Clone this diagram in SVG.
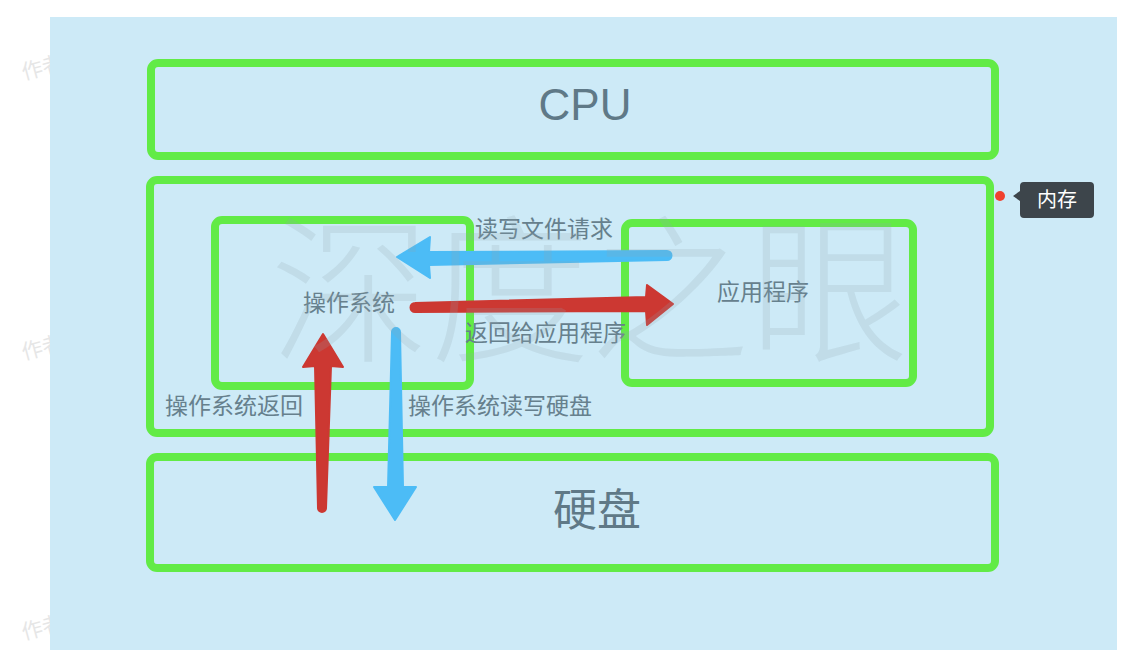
<svg xmlns="http://www.w3.org/2000/svg" width="1140" height="658" viewBox="0 0 1140 658">
<style>
.box{fill:none;stroke:#62eb46;stroke-width:8;}
.lbl{font-family:"Liberation Sans","Noto Sans CJK SC",sans-serif;fill:#66808d;font-size:23px;}
.big{font-family:"Liberation Sans","Noto Sans CJK SC",sans-serif;fill:#5f7987;font-size:44px;text-anchor:middle;}
.wm{font-family:"Noto Sans CJK SC",sans-serif;fill:#e6e6e6;font-size:21px;}
.blue{fill:#4cbcf6;stroke:#4cbcf6;stroke-width:2;stroke-linejoin:round;}
.red{fill:#cc3832;stroke:#cc3832;stroke-width:2;stroke-linejoin:round;}
</style>
<rect width="1140" height="658" fill="#ffffff"/>
<g id="side-watermarks">
<text class="wm" x="24" y="80" transform="rotate(-15 24 80)">作者</text>
<text class="wm" x="24" y="360" transform="rotate(-15 24 360)">作者</text>
<text class="wm" x="24" y="640" transform="rotate(-15 24 640)">作者</text>
</g>
<rect x="50" y="17" width="1067" height="633" fill="#cdeaf7"/>
<g id="cpu">
<rect class="box" x="151" y="63" width="844" height="93" rx="7"/>
<text class="big" x="585" y="120">CPU</text>
</g>
<g id="memory">
<rect class="box" x="150" y="180" width="840" height="253" rx="7"/>
</g>
<g id="os">
<rect class="box" x="215" y="220" width="255" height="166" rx="7"/>
<text class="lbl" x="349" y="311" text-anchor="middle">操作系统</text>
</g>
<g id="app">
<rect class="box" x="625" y="223" width="288" height="160" rx="7"/>
<text class="lbl" x="763" y="300" text-anchor="middle">应用程序</text>
</g>
<g id="disk">
<rect class="box" x="150" y="457" width="845" height="111" rx="7"/>
<text class="big" x="597" y="526">硬盘</text>
</g>
<g id="connectors">
<path class="blue" d="M667,251 L429,252 L430,237 L397,257 L430,278 L429,265 L667,260 A4.5,4.5 0 0 0 667,251 Z"/>
<path class="red" d="M415,303 L646,297 L647,285 L673,304 L647,325 L646,311 L415,312 A4.5,4.5 0 0 1 415,303 Z"/>
<path class="red" d="M318,508 L315,366 L303,367 L323,334 L343,367 L331,366 L326,508 A4,4 0 0 1 318,508 Z"/>
<path class="blue" d="M392,332 L388,487 L374,487 L395,520 L416,487 L403,487 L400,332 A4,4 0 0 0 392,332 Z"/>
<text class="lbl" x="475" y="237">读写文件请求</text>
<text class="lbl" x="465" y="341">返回给应用程序</text>
<text class="lbl" x="165" y="414">操作系统返回</text>
<text class="lbl" x="408" y="414">操作系统读写硬盘</text>
</g>
<g id="watermark">
<text x="590" y="350" text-anchor="middle" font-family="Noto Sans CJK SC, sans-serif" font-size="160" font-weight="300" fill="#8fa3ad" fill-opacity="0.2">深度之眼</text>
</g>
<g id="memory-tag">
<circle cx="1000" cy="196" r="5" fill="#f0412e"/>
<path d="M1024,182 L1090,182 Q1094,182 1094,186 L1094,214 Q1094,218 1090,218 L1024,218 Q1020,218 1020,214 L1020,201 L1013,196 L1020,191 L1020,186 Q1020,182 1024,182 Z" fill="#3d454b"/>
<text x="1057" y="207" text-anchor="middle" font-family="Liberation Sans, Noto Sans CJK SC, sans-serif" font-size="20" fill="#ffffff">内存</text>
</g>
</svg>
